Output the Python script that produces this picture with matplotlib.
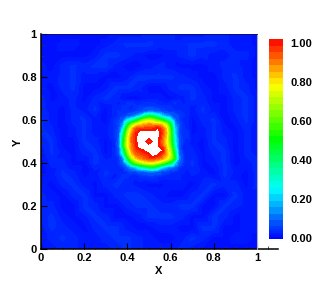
import numpy as np
import matplotlib
matplotlib.use("Agg")
import matplotlib.pyplot as plt
import matplotlib.tri as mtri
from matplotlib.colors import LinearSegmentedColormap
from matplotlib.ticker import MultipleLocator

plt.rcParams['font.family'] = ['Liberation Sans', 'DejaVu Sans']
plt.rcParams['font.weight'] = 'bold'

n = np.nan
coarse_x = [i * 0.05 for i in range(21)]
coarse_y = [1 - i * 0.05 for i in range(21)]
# far field, hundredths, top row first (nan = covered by the fine grid)
coarse = [
 [1,1,1,1,1,1,1,2,2,2,3,3,3,2,2,2,3,3,2,2,1],
 [1,1,2,2,1,1,2,3,4,4,4,3,3,3,4,4,4,3,2,2,1],
 [1,1,1,1,1,2,4,4,3,2,1,1,2,3,4,3,2,2,3,3,1],
 [2,1,3,4,3,4,4,2,1,1,2,3,2,1,1,1,2,3,3,2,1],
 [2,2,3,4,2,2,1,1,2,4,4,4,4,3,2,1,1,3,4,2,1],
 [2,1,3,4,1,1,2,4,4,3,1,1,3,4,4,2,1,2,4,3,1],
 [3,1,2,3,1,3,4,3,1,1,2,2,1,2,4,3,1,1,3,4,2],
 [3,2,1,3,2,4,1,n,n,n,n,n,n,n,2,4,2,1,3,4,2],
 [4,2,1,3,4,2,1,n,n,n,n,n,n,n,1,3,4,1,2,4,2],
 [4,3,1,2,4,2,2,n,n,n,n,n,n,n,1,2,4,2,1,3,2],
 [3,4,1,1,4,3,1,n,n,n,n,n,n,n,2,1,4,3,1,3,2],
 [2,4,2,1,3,4,1,n,n,n,n,n,n,n,3,1,3,4,1,3,2],
 [1,3,3,1,1,4,3,n,n,n,n,n,n,n,4,1,2,4,1,2,3],
 [1,2,4,3,1,2,4,n,n,n,n,n,n,n,3,2,1,4,2,1,3],
 [2,1,3,4,2,1,3,4,3,2,1,1,2,2,1,3,4,3,3,1,3],
 [3,2,1,3,4,1,1,3,4,4,3,2,1,1,3,4,1,1,4,2,2],
 [3,3,1,1,4,3,1,1,3,4,4,3,3,4,4,1,1,4,3,2,2],
 [3,4,2,1,2,4,3,1,1,2,4,4,4,3,1,1,4,3,1,2,2],
 [2,4,3,2,1,3,4,4,2,1,1,2,2,1,1,4,4,1,1,2,2],
 [2,3,4,3,2,2,3,4,4,3,2,1,1,2,4,3,1,1,2,2,1],
 [1,2,3,3,2,2,2,3,4,3,2,2,2,3,2,1,1,1,1,1,1],
]
fine_x = [0.34 + i * 0.02 for i in range(18)]
fine_y = [0.68 - i * 0.02 for i in range(18)]
# central peak, hundredths, top row first
fine = [
 [3,2,3,4,4,3,3,4,4,4,3,3,2,3,4,3,2,3],
 [3,3,4,4,3,4,5,5,5,5,5,4,4,4,3,3,3,3],
 [3,4,4,4,4,5,6,8,10,10,8,6,5,4,4,4,3,3],
 [3,4,5,6,8,12,20,32,42,38,28,20,14,10,7,5,4,3],
 [4,5,8,22,30,40,56,68,72,68,58,50,38,25,10,5,3,3],
 [4,6,14,42,62,75,82,85,88,86,85,82,70,46,15,6,4,3],
 [4,6,24,58,82,95,97,97,97,98,103,95,82,55,20,6,4,3],
 [4,7,34,68,88,99,108,108,108,110,108,97,85,56,22,6,4,4],
 [4,7,42,72,92,100,110,110,105,110,106,94,82,56,24,7,4,4],
 [3,8,45,75,92,100,110,105,93,105,104,92,80,58,27,7,4,3],
 [3,8,48,75,90,99,108,110,108,110,103,94,82,62,30,7,3,3],
 [3,7,36,68,88,96,99,103,110,112,108,104,86,68,38,8,3,3],
 [3,6,26,60,82,92,95,97,100,108,103,95,86,72,42,10,4,3],
 [3,4,12,42,68,82,88,92,95,95,92,88,80,68,48,12,4,3],
 [3,4,8,22,48,60,68,75,78,78,72,62,52,42,20,8,4,3],
 [3,3,4,8,15,20,28,35,42,44,35,22,15,12,8,4,3,3],
 [3,3,3,4,6,6,8,9,10,10,9,6,6,4,4,3,3,2],
 [2,3,4,4,3,3,4,4,5,5,4,4,3,3,3,3,2,2],
]
tick_vals = [0, 0.2, 0.4, 0.6, 0.8, 1]
cbar_ticks = [0.0, 0.2, 0.4, 0.6, 0.8, 1.0]

cx, cy = np.meshgrid(coarse_x, coarse_y)
fx, fy = np.meshgrid(fine_x, fine_y)
cz = np.array(coarse, float) / 100
fz = np.array(fine, float) / 100
keep = np.isfinite(cz)
x = np.r_[cx[keep], fx.ravel()]
y = np.r_[cy[keep], fy.ravel()]
z = np.r_[cz[keep], fz.ravel()]

W, H = 316, 281
fig = plt.figure(figsize=(W / 100, H / 100), dpi=100)
ax = fig.add_axes([41 / W, (H - 249) / H, (278 - 41) / W, 215 / H])
cmap = LinearSegmentedColormap.from_list(
    "rainbow_field",
    [(0, (0, 0, 1)), (0.25, (0, 1, 1)), (0.5, (0, 1, 0)), (0.77, (1, 1, 0)), (1, (1, 0, 0))], N=256)
levels = np.r_[np.linspace(-0.007, 0.059, 7), np.linspace(0.059, 1.02, 30)[1:]]
cs = ax.tricontourf(mtri.Triangulation(x, y), z, levels=levels, cmap=cmap, vmin=-0.007, vmax=1.02)

ax.set_xlim(0, 237 / 216)
ax.set_ylim(0, 1)
ax.set_xticks(tick_vals, ['0', '0.2', '0.4', '0.6', '0.8', '1'])
ax.set_yticks(tick_vals, ['0', '0.2', '0.4', '0.6', '0.8', '1'])
ax.xaxis.set_minor_locator(MultipleLocator(0.05))
ax.yaxis.set_minor_locator(MultipleLocator(0.05))
ax.tick_params(which='major', direction='in', length=4.5, width=0.8, labelsize=8, pad=3, color='black')
ax.tick_params(which='minor', direction='in', length=2, width=0.6, color='#333333')
for s in ('top', 'right'):
    ax.spines[s].set_visible(False)
ax.spines['left'].set_linewidth(1.1)
ax.spines['bottom'].set_linewidth(1.1)
ax.plot([1, 1], [0, 1], color='#a9adc4', lw=0.8, clip_on=False, zorder=3)
ax.plot([0, 1], [1, 1], color='#10105a', lw=0.6, clip_on=False, zorder=3)
ax.set_xlabel('X', fontsize=8, fontweight='bold')
ax.xaxis.set_label_coords((159 - 41) / 237, -17 / 215)
ax.set_ylabel('Y', fontsize=8, fontweight='bold')
ax.yaxis.set_label_coords(-18 / 237, (249 - 142) / 215)

cax = fig.add_axes([269 / W, (H - 239.3) / H, 14 / W, 200 / H])
cb = fig.colorbar(cs, cax=cax, ticks=cbar_ticks, format='%.2f', spacing='proportional')
cb.outline.set_visible(False)
cax.minorticks_off()
cax.tick_params(length=0, labelsize=8, pad=5.5)

fig.savefig('out.png', dpi=100)
